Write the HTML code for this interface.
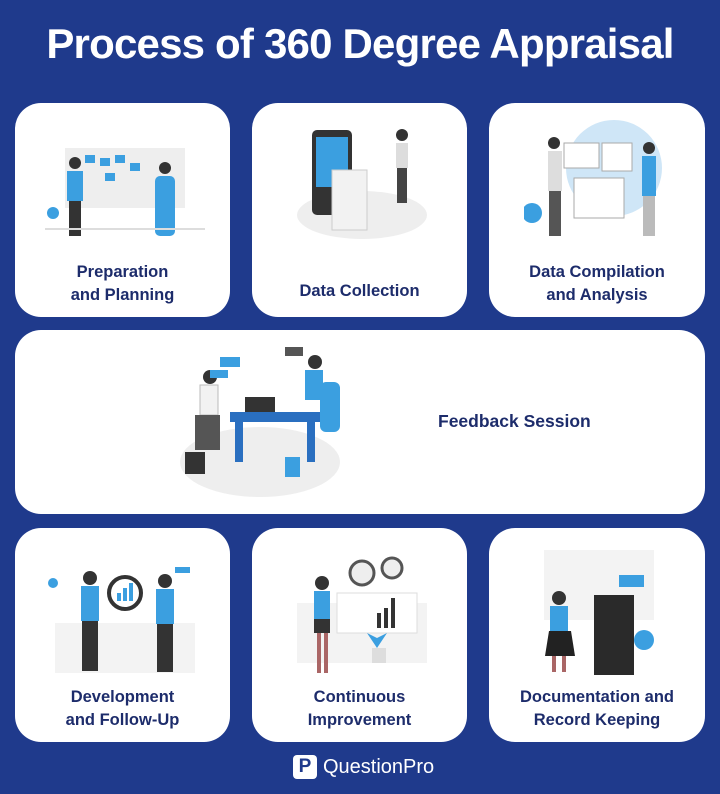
<!DOCTYPE html>
<html><head><meta charset="utf-8"><style>
*{margin:0;padding:0;box-sizing:border-box}
body{width:720px;height:794px;background:#1f3a8c;font-family:"Liberation Sans",sans-serif;position:relative;overflow:hidden}
h1{position:absolute;top:20px;left:0;width:720px;text-align:center;color:#fff;font-size:42px;font-weight:bold;letter-spacing:-0.8px}
.c{position:absolute;background:#fff;border-radius:26px}
.l{position:absolute;left:0;right:0;text-align:center;color:#1d2c6b;font-weight:bold;font-size:16.5px;line-height:23px}
.ill{position:absolute}
.logo{position:absolute;left:293px;top:755px;color:#fff;font-size:20px;display:flex;align-items:center;gap:6px}
.logo b{display:inline-block;width:24px;height:24px;background:#fff;border-radius:4px;color:#1f3a8c;text-align:center;font-size:19px;line-height:24px}
</style></head><body>
<h1>Process of 360 Degree Appraisal</h1>

<div class="c" style="left:15px;top:103px;width:215px;height:214px">
<svg class="ill" style="left:30px;top:40px" width="160" height="110"><rect x="20" y="5" width="120" height="60" fill="#eee"/><g fill="#3b9fe0"><rect x="40" y="12" width="10" height="8"/><rect x="55" y="15" width="10" height="8"/><rect x="70" y="12" width="10" height="8"/><rect x="85" y="20" width="10" height="8"/><rect x="60" y="30" width="10" height="8"/></g><circle cx="30" cy="20" r="6" fill="#333"/><rect x="22" y="28" width="16" height="30" fill="#3b9fe0"/><rect x="24" y="58" width="12" height="35" fill="#333"/><circle cx="120" cy="25" r="6" fill="#333"/><rect x="110" y="33" width="20" height="60" rx="5" fill="#3b9fe0"/><circle cx="8" cy="70" r="6" fill="#3b9fe0"/><rect x="0" y="85" width="160" height="2" fill="#ddd"/></svg>
<div class="l" style="top:158px">Preparation<br>and Planning</div></div>

<div class="c" style="left:252px;top:103px;width:215px;height:214px">
<svg class="ill" style="left:40px;top:22px" width="140" height="115"><ellipse cx="70" cy="90" rx="65" ry="24" fill="#eee"/><rect x="20" y="5" width="40" height="85" rx="5" fill="#333"/><rect x="24" y="12" width="32" height="50" fill="#3b9fe0"/><rect x="40" y="45" width="35" height="60" fill="#f2f2f2" stroke="#ccc"/><circle cx="110" cy="10" r="6" fill="#333"/><rect x="104" y="18" width="12" height="25" fill="#ddd"/><rect x="105" y="43" width="10" height="35" fill="#444"/></svg>
<div class="l" style="top:177px">Data Collection</div></div>

<div class="c" style="left:489px;top:103px;width:216px;height:214px">
<svg class="ill" style="left:35px;top:15px" width="150" height="140"><circle cx="90" cy="50" r="48" fill="#cfe6f7"/><rect x="40" y="25" width="35" height="25" fill="#fff" stroke="#aaa"/><rect x="78" y="25" width="30" height="28" fill="#fff" stroke="#aaa"/><rect x="50" y="60" width="50" height="40" fill="#fff" stroke="#aaa"/><circle cx="30" cy="25" r="6" fill="#333"/><rect x="24" y="33" width="14" height="40" fill="#ddd"/><rect x="25" y="73" width="12" height="45" fill="#555"/><circle cx="125" cy="30" r="6" fill="#333"/><rect x="118" y="38" width="14" height="40" fill="#3b9fe0"/><rect x="119" y="78" width="12" height="40" fill="#bbb"/><circle cx="8" cy="95" r="10" fill="#3b9fe0"/></svg>
<div class="l" style="top:158px">Data Compilation<br>and Analysis</div></div>

<div class="c" style="left:15px;top:330px;width:690px;height:184px">
<svg class="ill" style="left:160px;top:12px" width="180" height="160"><ellipse cx="85" cy="120" rx="80" ry="35" fill="#eee"/><rect x="55" y="70" width="90" height="10" fill="#2a6fc0"/><rect x="60" y="80" width="8" height="40" fill="#2a6fc0"/><rect x="132" y="80" width="8" height="40" fill="#2a6fc0"/><rect x="70" y="55" width="30" height="15" fill="#333"/><circle cx="35" cy="35" r="7" fill="#333"/><rect x="25" y="43" width="18" height="30" fill="#f2f2f2" stroke="#bbb"/><rect x="20" y="73" width="25" height="35" fill="#555"/><circle cx="140" cy="20" r="7" fill="#333"/><rect x="130" y="28" width="18" height="30" fill="#3b9fe0"/><rect x="145" y="40" width="20" height="50" rx="6" fill="#3b9fe0"/><rect x="45" y="15" width="20" height="10" fill="#3b9fe0"/><rect x="35" y="28" width="18" height="8" fill="#3b9fe0"/><rect x="110" y="5" width="18" height="9" fill="#555"/><rect x="10" y="110" width="20" height="22" fill="#333"/><rect x="110" y="115" width="15" height="20" fill="#3b9fe0"/></svg>
<div class="l" style="top:80px;left:423px;right:auto;font-size:17.5px">Feedback Session</div></div>

<div class="c" style="left:15px;top:528px;width:215px;height:214px">
<svg class="ill" style="left:30px;top:35px" width="160" height="120"><rect x="10" y="60" width="140" height="50" fill="#f3f3f3"/><circle cx="45" cy="15" r="7" fill="#333"/><rect x="36" y="23" width="18" height="35" fill="#3b9fe0"/><rect x="37" y="58" width="16" height="50" fill="#333"/><circle cx="80" cy="30" r="16" fill="#fff" stroke="#333" stroke-width="4"/><g fill="#3b9fe0"><rect x="72" y="30" width="4" height="8"/><rect x="78" y="25" width="4" height="13"/><rect x="84" y="20" width="4" height="18"/></g><circle cx="120" cy="18" r="7" fill="#333"/><rect x="111" y="26" width="18" height="35" fill="#3b9fe0"/><rect x="112" y="61" width="16" height="48" fill="#333"/><circle cx="8" cy="20" r="5" fill="#3b9fe0"/><rect x="130" y="4" width="15" height="6" fill="#3b9fe0"/></svg>
<div class="l" style="top:158px">Development<br>and Follow-Up</div></div>

<div class="c" style="left:252px;top:528px;width:215px;height:214px">
<svg class="ill" style="left:40px;top:25px" width="140" height="130"><rect x="5" y="50" width="130" height="60" fill="#f3f3f3"/><circle cx="70" cy="20" r="12" fill="#eee" stroke="#555" stroke-width="3"/><circle cx="100" cy="15" r="10" fill="#eee" stroke="#555" stroke-width="3"/><rect x="45" y="40" width="80" height="40" fill="#fff" stroke="#ddd"/><g fill="#333"><rect x="85" y="60" width="4" height="15"/><rect x="92" y="55" width="4" height="20"/><rect x="99" y="45" width="4" height="30"/></g><circle cx="30" cy="30" r="7" fill="#333"/><rect x="22" y="38" width="16" height="28" fill="#3b9fe0"/><rect x="22" y="66" width="16" height="14" fill="#333"/><rect x="25" y="80" width="4" height="40" fill="#a66"/><rect x="32" y="80" width="4" height="40" fill="#a66"/><path d="M85 95 l-10 -15 l10 5 l10 -5 z" fill="#3b9fe0"/><rect x="80" y="95" width="14" height="15" fill="#ddd"/></svg>
<div class="l" style="top:158px">Continuous<br>Improvement</div></div>

<div class="c" style="left:489px;top:528px;width:216px;height:214px">
<svg class="ill" style="left:45px;top:12px" width="130" height="135"><rect x="10" y="10" width="110" height="70" fill="#f3f3f3"/><rect x="60" y="55" width="40" height="80" fill="#2a2a2a"/><rect x="85" y="35" width="25" height="12" fill="#3b9fe0"/><circle cx="25" cy="58" r="7" fill="#333"/><rect x="16" y="66" width="18" height="25" fill="#3b9fe0"/><path d="M15 91 h22 l4 25 h-30z" fill="#222"/><rect x="18" y="116" width="4" height="16" fill="#a66"/><rect x="28" y="116" width="4" height="16" fill="#a66"/><circle cx="110" cy="100" r="10" fill="#3b9fe0"/></svg>
<div class="l" style="top:158px">Documentation and<br>Record Keeping</div></div>

<div class="logo"><b>P</b><span>QuestionPro</span></div>
</body></html>
